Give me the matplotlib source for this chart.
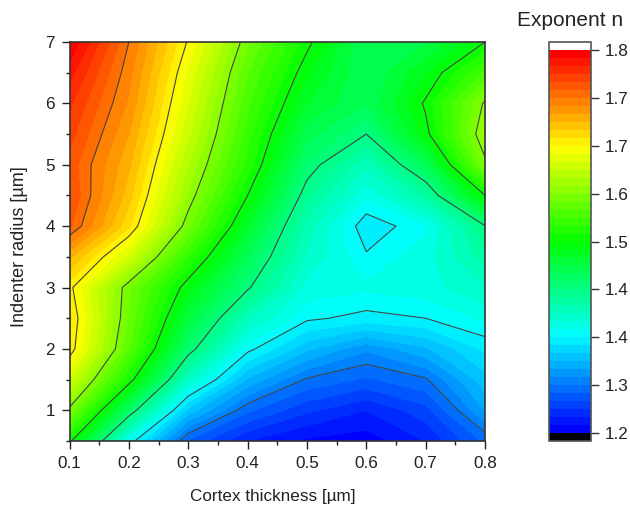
import numpy as np
import matplotlib
matplotlib.use("Agg")
import matplotlib.pyplot as plt
from matplotlib.colors import LinearSegmentedColormap, BoundaryNorm

plt.rcParams['font.family'] = ['Liberation Sans', 'DejaVu Sans']

thickness = [0.1, 0.2, 0.3, 0.4, 0.5, 0.6, 0.7, 0.8]
radius = [0.5, 1, 1.5, 2, 2.5, 3, 3.5, 4, 4.5, 5, 5.5, 6, 6.5, 7]

n_t01 = [1.505, 1.57, 1.62, 1.66, 1.665, 1.655, 1.69, 1.74, 1.75, 1.745, 1.755, 1.765, 1.78, 1.80]
n_t02 = [1.36, 1.44, 1.51, 1.55, 1.56, 1.565, 1.62, 1.665, 1.68, 1.69, 1.70, 1.71, 1.717, 1.725]
n_t03 = [1.26, 1.32, 1.385, 1.435, 1.465, 1.49, 1.525, 1.565, 1.585, 1.60, 1.615, 1.625, 1.635, 1.648]
n_t04 = [1.225, 1.265, 1.31, 1.355, 1.39, 1.428, 1.45, 1.475, 1.50, 1.52, 1.53, 1.54, 1.55, 1.565]
n_t05 = [1.21, 1.24, 1.273, 1.315, 1.353, 1.37, 1.385, 1.395, 1.415, 1.435, 1.455, 1.475, 1.49, 1.505]
n_t06 = [1.205, 1.225, 1.26, 1.29, 1.345, 1.365, 1.352, 1.34, 1.365, 1.39, 1.425, 1.45, 1.45, 1.45]
n_t07 = [1.225, 1.245, 1.273, 1.31, 1.35, 1.37, 1.37, 1.36, 1.405, 1.45, 1.494, 1.503, 1.485, 1.46]
n_t08 = [1.265, 1.30, 1.32, 1.34, 1.365, 1.385, 1.405, 1.424, 1.50, 1.57, 1.59, 1.578, 1.54, 1.50]

bar_ticks = [1.2, 1.275, 1.35, 1.425, 1.5, 1.575, 1.65, 1.725, 1.8]
bar_tick_labels = ['1.2', '1.3', '1.4', '1.4', '1.5', '1.6', '1.7', '1.7', '1.8']
line_levels = [1.275, 1.35, 1.425, 1.5, 1.575, 1.65, 1.725]

Z = np.column_stack([n_t01, n_t02, n_t03, n_t04, n_t05, n_t06, n_t07, n_t08])
fill_levels = np.linspace(1.2, 1.8, 49)

W, H = 630, 505
fig = plt.figure(figsize=(W / 100, H / 100), dpi=100)
ax = fig.add_axes([69.5 / W, 1 - 441 / H, (485 - 69.5) / W, (441 - 42) / H])
cax = fig.add_axes([549 / W, 1 - 441 / H, (591 - 549) / W, (441 - 42) / H])

cmap = LinearSegmentedColormap.from_list('rb', ['#0000ff', '#00ffff', '#00ff00', '#ffff00', '#ff0000'], N=48)
cmap.set_under('black')
cmap.set_over('white')
norm = BoundaryNorm(fill_levels, 48)

cs = ax.contourf(thickness, radius, Z, levels=fill_levels, cmap=cmap, norm=norm, extend='both')
cs.set_edgecolor('face')
cs.set_linewidth(0.3)
ax.contour(thickness, radius, Z, levels=line_levels, colors='#444444', linewidths=0.8)

ax.set_xlim(0.1, 0.8)
ax.set_ylim(0.5, 7)
ax.set_xticks([0.1, 0.2, 0.3, 0.4, 0.5, 0.6, 0.7, 0.8])
ax.set_xticks([0.15, 0.25, 0.35, 0.45, 0.55, 0.65, 0.75], minor=True)
ax.set_yticks([1, 2, 3, 4, 5, 6, 7])
ax.set_yticks([0.5, 1.5, 2.5, 3.5, 4.5, 5.5, 6.5], minor=True)
ax.tick_params(which='major', direction='out', length=5.5, width=1, labelsize=12.3, color='#222222', labelcolor='#222222', pad=5)
ax.tick_params(which='minor', direction='out', length=3, width=1, color='#222222')
for s in ax.spines.values():
    s.set_linewidth(1.2)
    s.set_color('#333333')
    s.set_zorder(5)
ax.set_xlabel('Cortex thickness [µm]', fontsize=12.3, color='#222222', va='center')
ax.set_ylabel('Indenter radius [µm]', fontsize=13, color='#222222', va='center')
ax.xaxis.set_label_coords((273 - 69.5) / 415.5, (441 - 496) / 399)
ax.yaxis.set_label_coords((20 - 69.5) / 415.5, (441 - 247) / 399)

cb = fig.colorbar(cs, cax=cax, extend='both', extendrect=True, extendfrac=8 / 383, spacing='proportional')
cb.set_ticks(bar_ticks)
cb.set_ticklabels(bar_tick_labels)
cb.minorticks_off()
cax.tick_params(which='major', direction='out', length=6, width=1, labelsize=12.3, color='#333333', labelcolor='#222222', pad=4)
cb.outline.set_linewidth(1.2)
cb.outline.set_edgecolor('#555555')

fig.text(570 / W, 1 - 21 / H, 'Exponent n', fontsize=15, color='#222222', ha='center', va='center')

fig.savefig('out.png', dpi=100)
